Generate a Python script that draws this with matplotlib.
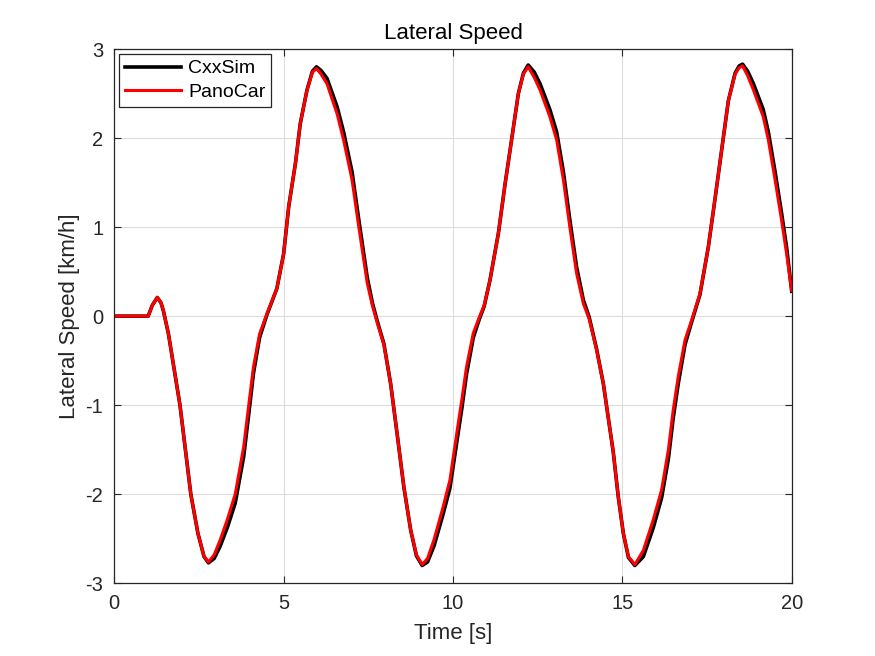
import matplotlib
matplotlib.use("Agg")
import matplotlib.pyplot as plt

plt.rcParams['font.family'] = ['Liberation Sans', 'DejaVu Sans']
plt.rcParams['axes.unicode_minus'] = False

# values (time in s, lateral speed in km/h)
pano_t = [0.0, 1.0, 1.12, 1.27, 1.38, 1.45, 1.60, 1.94, 2.26, 2.47, 2.65, 2.78, 2.95, 3.13, 3.35,
          3.57, 3.82, 3.97, 4.11, 4.29, 4.51, 4.80, 5.00, 5.15, 5.35, 5.49, 5.69, 5.85,
          5.97, 6.10, 6.28, 6.58, 6.77, 7.02, 7.22, 7.47, 7.62, 7.76, 7.96, 8.16, 8.35,
          8.55, 8.75, 8.92, 9.09, 9.25, 9.44, 9.71, 9.91, 10.11, 10.26, 10.40, 10.60,
          10.78, 10.92, 11.09, 11.34, 11.54, 11.73, 11.93, 12.08, 12.22, 12.40, 12.57,
          12.86, 13.06, 13.26, 13.45, 13.65, 13.85, 14.02, 14.24, 14.44, 14.58, 14.73,
          14.88, 15.03, 15.18, 15.37, 15.62, 15.91, 16.16, 16.36, 16.50, 16.65, 16.85,
          17.05, 17.29, 17.54, 17.73, 17.93, 18.13, 18.33, 18.45, 18.55, 18.70, 18.87, 19.16,
          19.31, 19.51, 19.70, 19.85, 20.0]
pano_v = [0.0, 0.0, 0.12, 0.21, 0.15, 0.06, -0.20, -1.00, -2.00, -2.44, -2.70, -2.76, -2.68, -2.51, -2.27,
          -2.00, -1.47, -1.00, -0.57, -0.20, 0.03, 0.31, 0.70, 1.23, 1.72, 2.16, 2.54, 2.74,
          2.78, 2.72, 2.61, 2.27, 1.98, 1.53, 1.00, 0.37, 0.12, -0.07, -0.32, -0.76, -1.32,
          -1.92, -2.40, -2.68, -2.79, -2.72, -2.51, -2.14, -1.84, -1.32, -0.94, -0.57, -0.19,
          -0.01, 0.12, 0.40, 0.93, 1.49, 1.98, 2.50, 2.72, 2.80, 2.68, 2.54,
          2.24, 1.98, 1.53, 1.00, 0.48, 0.14, -0.03, -0.38, -0.76, -1.13, -1.52,
          -2.03, -2.44, -2.70, -2.79, -2.63, -2.29, -1.95, -1.50, -1.06, -0.68, -0.27,
          -0.04, 0.25, 0.78, 1.30, 1.86, 2.42, 2.72, 2.79, 2.81, 2.70, 2.54, 2.24,
          1.98, 1.53, 1.08, 0.70, 0.29]

cxx_t = pano_t
cxx_v = [0.0, 0.0, 0.12, 0.21, 0.15, 0.06, -0.20, -1.00, -2.00, -2.44, -2.70, -2.77, -2.72, -2.58, -2.36,
         -2.10, -1.58, -1.10, -0.64, -0.24, 0.02, 0.31, 0.70, 1.23, 1.72, 2.16, 2.54, 2.75,
         2.80, 2.76, 2.67, 2.35, 2.07, 1.62, 1.08, 0.43, 0.15, -0.05, -0.31, -0.76, -1.32,
         -1.92, -2.40, -2.69, -2.80, -2.76, -2.58, -2.22, -1.93, -1.42, -1.04, -0.65, -0.24,
         -0.03, 0.11, 0.40, 0.93, 1.49, 1.98, 2.50, 2.73, 2.82, 2.74, 2.61,
         2.32, 2.07, 1.62, 1.08, 0.55, 0.18, -0.01, -0.37, -0.76, -1.13, -1.52,
         -2.03, -2.44, -2.71, -2.80, -2.70, -2.38, -2.04, -1.60, -1.15, -0.76, -0.32,
         -0.06, 0.24, 0.78, 1.30, 1.86, 2.42, 2.73, 2.81, 2.83, 2.75, 2.61, 2.32,
         2.07, 1.62, 1.16, 0.77, 0.28]

x_ticks = [0, 5, 10, 15, 20]
y_ticks = [-3, -2, -1, 0, 1, 2, 3]

fig = plt.figure(figsize=(8.75, 6.56), dpi=100)
ax = fig.add_axes([0.1306, 0.1108, 0.7742, 0.8145])

ax.plot(cxx_t, cxx_v, color='black', lw=2.6, label='CxxSim', solid_joinstyle='round')
ax.plot(pano_t, pano_v, color='red', lw=2.2, label='PanoCar', solid_joinstyle='round')

ax.set_xlim(0, 20)
ax.set_ylim(-3, 3)
ax.set_xticks(x_ticks)
ax.set_yticks(y_ticks)
ax.grid(True, color='#dcdcdc', lw=0.8)
ax.set_axisbelow(True)
ax.tick_params(direction='in', top=True, right=True, labelsize=14.5, colors='#262626',
               length=5, pad=8)
for s in ax.spines.values():
    s.set_color('#262626')
    s.set_linewidth(0.9)

ax.set_xlabel('Time [s]', fontsize=16, color='#262626', labelpad=7)
ax.set_ylabel('Lateral Speed [km/h]', fontsize=16, color='#262626', labelpad=4)
ax.set_title('Lateral Speed', fontsize=16, color='black', pad=7)

leg = ax.legend(loc='upper left', fontsize=14, fancybox=False, framealpha=1,
                edgecolor='#262626', handlelength=2.9, borderaxespad=0.25,
                borderpad=0.3, labelspacing=0.3, handletextpad=0.35)
leg.get_frame().set_linewidth(0.9)

fig.savefig('out.png', dpi=100)
